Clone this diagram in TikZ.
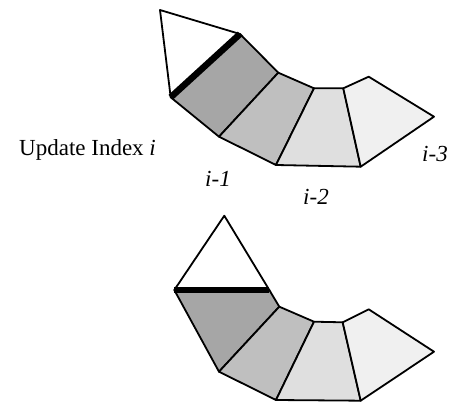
\documentclass[tikz,border=0pt]{standalone}
\usepackage{fontspec}
\setmainfont{Liberation Serif}
\tikzset{
  seg/.style={draw=black, line width=1.8pt, line join=round},
  thickedge/.style={draw=black, line width=6.5pt, line cap=butt},
  lbl/.style={font=\fontsize{23}{27}\selectfont, inner sep=0pt},
}
\definecolor{g1}{gray}{0.65}
\definecolor{g2}{gray}{0.75}
\definecolor{g3}{gray}{0.875}
\definecolor{g4}{gray}{0.94}
\begin{document}
\begin{tikzpicture}[x=1pt,y=-1pt]
\useasboundingbox (0,0) rectangle (450,403);
% ---------- top figure ----------
\coordinate (ta) at (160,10);
\coordinate (tr) at (240,34);
\coordinate (tl) at (170.7,97.3);
\coordinate (a1) at (278.3,72.7);
\coordinate (b1) at (219,136.7);
\coordinate (a2) at (314,88.3);
\coordinate (b2) at (276,165);
\coordinate (a3) at (343.3,88.3);
\coordinate (b3) at (360.7,166.7);
\coordinate (a4) at (368.7,76.7);
\coordinate (b4) at (434,116.7);
\path[seg, fill=white] (ta) -- (tr) -- (tl) -- cycle;
\path[seg, fill=g1] (tl) -- (tr) -- (a1) -- (b1) -- cycle;
\path[seg, fill=g2] (b1) -- (a1) -- (a2) -- (b2) -- cycle;
\path[seg, fill=g3] (b2) -- (a2) -- (a3) -- (b3) -- cycle;
\path[seg, fill=g4] (b3) -- (a3) -- (a4) -- (b4) -- cycle;
\draw[thickedge] (tl) -- (tr);
% ---------- bottom figure ----------
\coordinate (ua) at (224.3,215.7);
\coordinate (ul) at (174.3,290);
\coordinate (ur) at (269.3,290);
\coordinate (uk) at (279.3,306.7);
\coordinate (c1) at (219,371.7);
\coordinate (d2) at (314,321.7);
\coordinate (c2) at (276,400);
\coordinate (d3) at (342.7,322.3);
\coordinate (c3) at (360.7,400.7);
\coordinate (d4) at (368.7,309.3);
\coordinate (c4) at (434,351.7);
\path[seg, fill=white] (ua) -- (ur) -- (ul) -- cycle;
\path[seg, fill=g1] (ul) -- (ur) -- (uk) -- (c1) -- cycle;
\path[seg, fill=g2] (c1) -- (uk) -- (d2) -- (c2) -- cycle;
\path[seg, fill=g3] (c2) -- (d2) -- (d3) -- (c3) -- cycle;
\path[seg, fill=g4] (c3) -- (d3) -- (d4) -- (c4) -- cycle;
\draw[thickedge] (ul) -- (ur);
% ---------- labels ----------
\node[lbl, anchor=base west] (upd) at (19,156) {Update Index \textit{i}};
\node[lbl] (l1) at (218,179) {\textit{i-1}};
\node[lbl] (l2) at (316,197) {\textit{i-2}};
\node[lbl] (l3) at (435,154) {\textit{i-3}};
\end{tikzpicture}
\end{document}
